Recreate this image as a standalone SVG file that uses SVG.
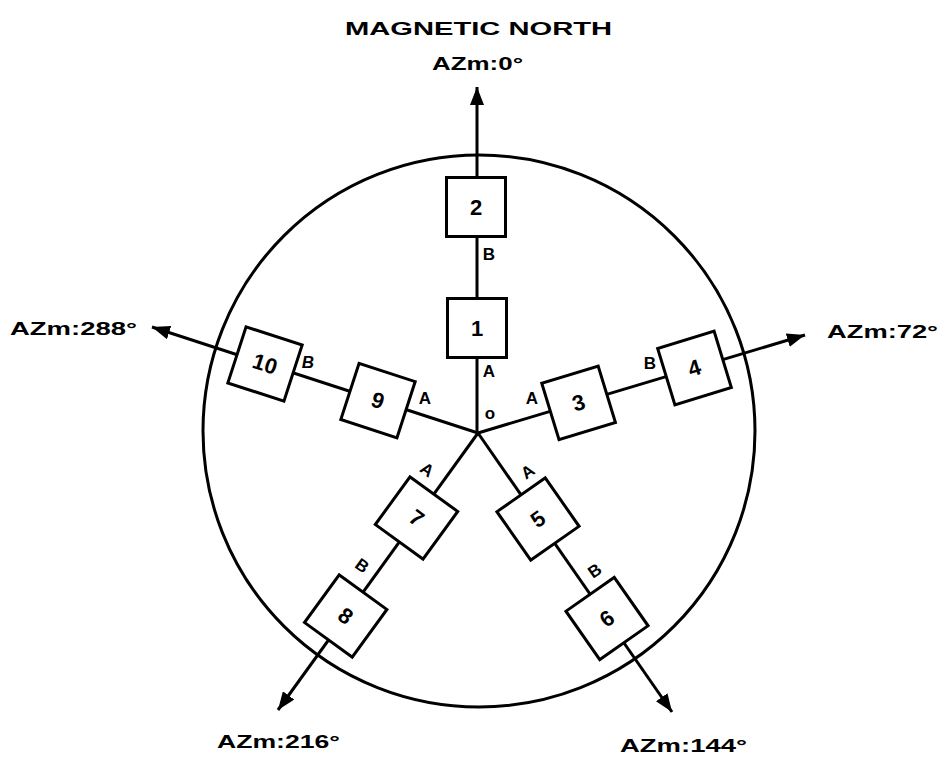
<svg xmlns="http://www.w3.org/2000/svg" width="940" height="757" viewBox="0 0 940 757">
<defs>
<marker id="arr" markerUnits="userSpaceOnUse" markerWidth="20" markerHeight="14" refX="18" refY="7" orient="auto">
<path d="M0,0 L18,7 L0,14 Z" fill="#000"/>
</marker>
<style>
.t{font-family:"Liberation Sans","DejaVu Sans",sans-serif;font-weight:bold;fill:#000}
.num{font-size:22px;text-anchor:middle;dominant-baseline:central}
.lab{font-size:17px;text-anchor:middle;dominant-baseline:central}
.az{font-size:19px}
.box{fill:#fff;stroke:#000;stroke-width:3}
.sp{stroke:#000;stroke-width:3;fill:none}
</style>
</defs>
<rect width="940" height="757" fill="#fff"/>
<text class="t" x="345" y="35" font-size="19" textLength="267" lengthAdjust="spacingAndGlyphs">MAGNETIC NORTH</text>
<circle cx="479" cy="431" r="276" fill="none" stroke="#000" stroke-width="3"/>
<g id="connectors">
<line class="sp" x1="477" y1="433" x2="477" y2="87" marker-end="url(#arr)"/>
<line class="sp" x1="478" y1="433" x2="805" y2="335" marker-end="url(#arr)"/>
<line class="sp" x1="478" y1="433" x2="152" y2="327" marker-end="url(#arr)"/>
<line class="sp" x1="478" y1="433" x2="672" y2="712" marker-end="url(#arr)"/>
<line class="sp" x1="478" y1="433" x2="278" y2="710" marker-end="url(#arr)"/>
</g>
<g id="n1" transform="translate(477,328)"><rect class="box" x="-29.5" y="-29.5" width="59" height="59"/><text class="t num" x="0" y="0">1</text></g>
<g id="n2" transform="translate(476,207)"><rect class="box" x="-29.5" y="-29.5" width="59" height="59"/><text class="t num" x="0" y="0">2</text></g>
<g id="n3" transform="translate(578.6,402.9) rotate(-17)"><rect class="box" x="-29.5" y="-29.5" width="59" height="59"/><text class="t num" x="0" y="0">3</text></g>
<g id="n4" transform="translate(694.5,368) rotate(-17)"><rect class="box" x="-29.5" y="-29.5" width="59" height="59"/><text class="t num" x="0" y="0">4</text></g>
<g id="n5" transform="translate(538,519) rotate(-35)"><rect class="box" x="-29.5" y="-29.5" width="59" height="59"/><text class="t num" x="0" y="0">5</text></g>
<g id="n6" transform="translate(607,618.5) rotate(-35)"><rect class="box" x="-29.5" y="-29.5" width="59" height="59"/><text class="t num" x="0" y="0">6</text></g>
<g id="n7" transform="translate(416.5,518) rotate(36)"><rect class="box" x="-29.5" y="-29.5" width="59" height="59"/><text class="t num" x="0" y="0">7</text></g>
<g id="n8" transform="translate(345.7,616) rotate(36)"><rect class="box" x="-29.5" y="-29.5" width="59" height="59"/><text class="t num" x="0" y="0">8</text></g>
<g id="n9" transform="translate(378,400.6) rotate(18)"><rect class="box" x="-29.5" y="-29.5" width="59" height="59"/><text class="t num" x="0" y="0">9</text></g>
<g id="n10" transform="translate(265,364) rotate(18)"><rect class="box" x="-29.5" y="-29.5" width="59" height="59"/><text class="t num" x="0" y="0">10</text></g>
<g id="labels">
<text class="t lab" x="489" y="371">A</text>
<text class="t lab" x="489" y="254">B</text>
<text class="t lab" x="490" y="413">o</text>
<text class="t lab" x="532" y="398">A</text>
<text class="t lab" x="650" y="363">B</text>
<text class="t lab" x="425" y="398">A</text>
<text class="t lab" x="308" y="362" font-style="italic">B</text>
<text class="t lab" transform="translate(528,472) rotate(-35)">A</text>
<text class="t lab" transform="translate(595,571) rotate(-35)">B</text>
<text class="t lab" transform="translate(427,470) rotate(36)">A</text>
<text class="t lab" transform="translate(362,566) rotate(36)">B</text>
</g>
<g id="azimuths">
<text class="t az" x="432" y="70" textLength="91" lengthAdjust="spacingAndGlyphs">AZm:0°</text>
<text class="t az" x="10" y="335" textLength="127" lengthAdjust="spacingAndGlyphs">AZm:288°</text>
<text class="t az" x="827" y="338" textLength="111" lengthAdjust="spacingAndGlyphs">AZm:72°</text>
<text class="t az" x="217" y="748" textLength="123" lengthAdjust="spacingAndGlyphs">AZm:216°</text>
<text class="t az" x="620" y="752" textLength="127" lengthAdjust="spacingAndGlyphs">AZm:144°</text>
</g>
</svg>
